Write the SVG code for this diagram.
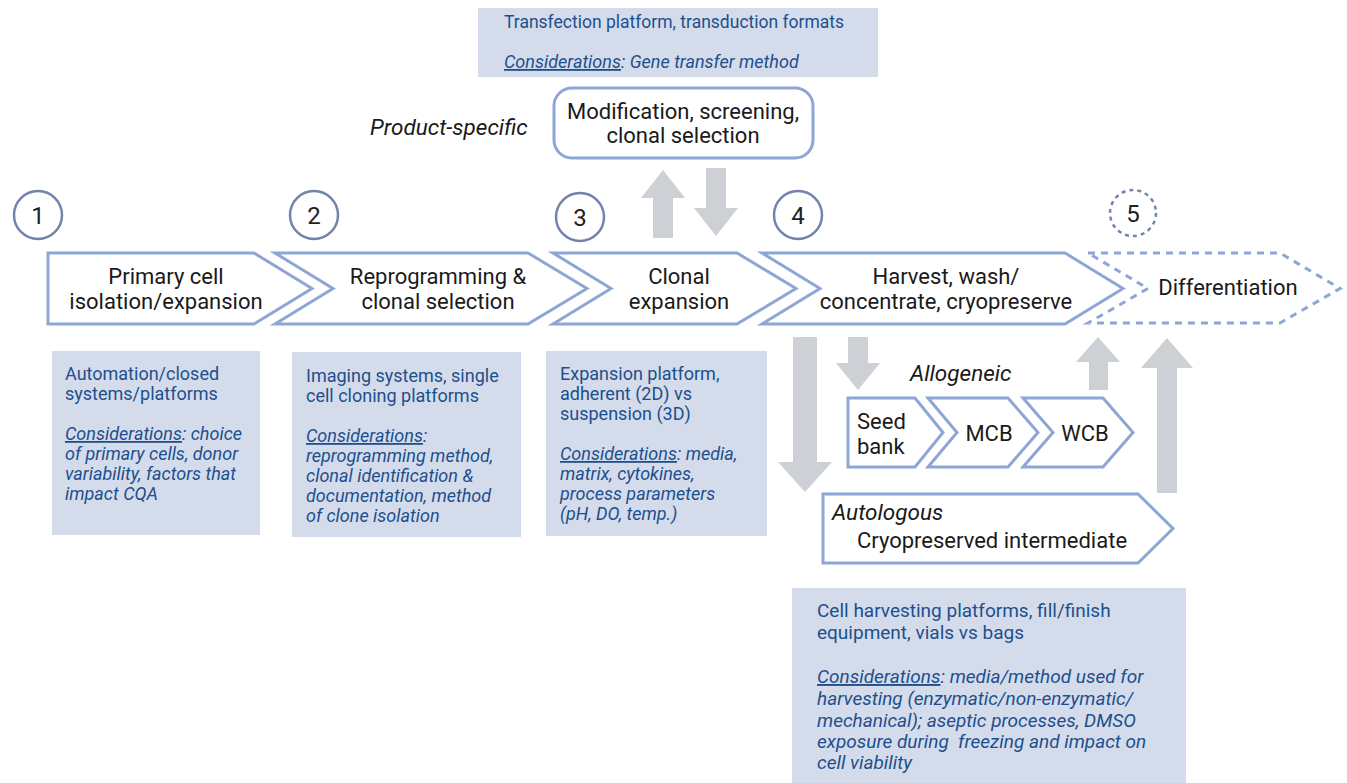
<svg xmlns="http://www.w3.org/2000/svg" width="1347" height="783" viewBox="0 0 1347 783">
<style>
.chev{fill:#fff;stroke:#8ea6d6;stroke-width:3;stroke-linejoin:miter}
.dash{fill:#fff;stroke:#8ea6d6;stroke-width:3;stroke-dasharray:7 6}
.circ{fill:#fff;stroke:#7283ad;stroke-width:2.5}
.num{font-family:Roboto,"Liberation Sans",sans-serif;font-size:24px;fill:#222;text-anchor:middle}
.lbl{font-family:Roboto,"Liberation Sans",sans-serif;font-size:22px;fill:#1a1a1a;text-anchor:middle}
.st{text-anchor:start}
.it{font-family:Roboto,"Liberation Sans",sans-serif;font-size:22.5px;fill:#1a1a1a;font-style:italic}
.box{fill:#d4dcec}
.bt{font-family:Roboto,"Liberation Sans",sans-serif;font-size:17.5px;fill:#1d4f8c}
.bs{font-size:18px}
.bl{font-size:19px}
.bi{font-style:italic}
.u{text-decoration:underline}
.arr{fill:#cdd0d4}
</style>

<g id="connectors">
  <polygon class="arr" points="653,238 673,238 673,198 685,198 663,170 641,198 653,198"/>
  <polygon class="arr" points="706,168 726,168 726,208 738,208 716,236 694,208 706,208"/>
  <polygon class="arr" points="793,337 817,337 817,462 832,462 805,492 778,462 793,462"/>
  <polygon class="arr" points="848,337 868,337 868,363 880,363 858,390 836,363 848,363"/>
  <polygon class="arr" points="1089,390 1108,390 1108,362 1120,362 1098,337 1076,362 1089,362"/>
  <polygon class="arr" points="1157,493 1177,493 1177,368 1193,368 1167,338 1141,368 1157,368"/>
</g>

<g id="top-box">
  <rect class="box" x="478" y="8" width="400" height="69"/>
  <text class="bt" x="504" y="28">Transfection platform, transduction formats</text>
  <text class="bt bs bi" x="504" y="68"><tspan class="u">Considerations</tspan>: Gene transfer method</text>
</g>

<g id="product-specific">
  <text class="it" x="370" y="135">Product-specific</text>
</g>

<g id="modification">
  <rect x="554" y="88" width="259" height="70" rx="18" fill="#fff" stroke="#8ea6d6" stroke-width="3"/>
  <text class="lbl" x="683" y="119">Modification, screening,</text>
  <text class="lbl" x="683" y="143">clonal selection</text>
</g>

<g id="step1">
  <circle class="circ" cx="38" cy="215" r="24"/>
  <text class="num" x="38" y="224">1</text>
  <polygon class="chev" points="48,253 254,253 312,288.5 254,324 48,324"/>
  <text class="lbl" x="166" y="284">Primary cell</text>
  <text class="lbl" x="166" y="309">isolation/expansion</text>
</g>

<g id="step2">
  <circle class="circ" cx="314" cy="215" r="24"/>
  <text class="num" x="314" y="224">2</text>
  <polygon class="chev" points="275,253 528,253 587,288.5 528,324 275,324 333,288.5"/>
  <text class="lbl" x="438" y="284">Reprogramming &amp;</text>
  <text class="lbl" x="438" y="309">clonal selection</text>
</g>

<g id="step3">
  <circle class="circ" cx="580" cy="217" r="24"/>
  <text class="num" x="580" y="226">3</text>
  <polygon class="chev" points="553,253 737,253 796,288.5 737,324 553,324 611,288.5"/>
  <text class="lbl" x="679" y="284">Clonal</text>
  <text class="lbl" x="679" y="309">expansion</text>
</g>

<g id="step4">
  <circle class="circ" cx="798" cy="215" r="24"/>
  <text class="num" x="798" y="224">4</text>
  <polygon class="chev" points="762,253 1065,253 1123,288.5 1065,324 762,324 820,288.5"/>
  <text class="lbl" x="946" y="284">Harvest, wash/</text>
  <text class="lbl" x="946" y="309">concentrate, cryopreserve</text>
</g>

<g id="step5">
  <circle class="circ" cx="1133" cy="213" r="23" stroke-dasharray="4 4"/>
  <text class="num" x="1133" y="222">5</text>
  <polygon class="dash" points="1088,253 1280,253 1340,288.5 1280,323 1088,323 1148,288.5"/>
  <text class="lbl" x="1228" y="295">Differentiation</text>
</g>

<g id="allogeneic">
  <text class="it" x="910" y="381">Allogeneic</text>
</g>

<g id="seed-bank">
  <polygon class="chev" points="848,398 915,398 943,432.5 915,467 848,467"/>
  <text class="lbl st" x="857" y="429">Seed</text>
  <text class="lbl st" x="857" y="454">bank</text>
</g>

<g id="mcb">
  <polygon class="chev" points="928,398 1008,398 1038,432.5 1008,467 928,467 957,432.5"/>
  <text class="lbl" x="989" y="441">MCB</text>
</g>

<g id="wcb">
  <polygon class="chev" points="1023,398 1103,398 1133,432.5 1103,467 1023,467 1053,432.5"/>
  <text class="lbl" x="1085" y="441">WCB</text>
</g>

<g id="autologous">
  <polygon class="chev" points="823,494 1138,494 1173,528.5 1138,563 823,563"/>
  <text class="it" x="832" y="520">Autologous</text>
  <text class="lbl" x="992" y="548">Cryopreserved intermediate</text>
</g>

<g id="box1">
  <rect class="box" x="52" y="351" width="208" height="184"/>
  <text class="bt bs" x="65" y="380">Automation/closed</text>
  <text class="bt bs" x="65" y="400">systems/platforms</text>
  <text class="bt bs bi" x="65" y="440"><tspan class="u">Considerations</tspan>: choice</text>
  <text class="bt bs bi" x="65" y="460">of primary cells, donor</text>
  <text class="bt bs bi" x="65" y="480">variability, factors that</text>
  <text class="bt bs bi" x="65" y="500">impact CQA</text>
</g>

<g id="box2">
  <rect class="box" x="292" y="352" width="229" height="185"/>
  <text class="bt bs" x="306" y="382">Imaging systems, single</text>
  <text class="bt bs" x="306" y="402">cell cloning platforms</text>
  <text class="bt bs bi" x="306" y="442"><tspan class="u">Considerations</tspan>:</text>
  <text class="bt bs bi" x="306" y="462">reprogramming method,</text>
  <text class="bt bs bi" x="306" y="482">clonal identification &amp;</text>
  <text class="bt bs bi" x="306" y="502">documentation, method</text>
  <text class="bt bs bi" x="306" y="522">of clone isolation</text>
</g>

<g id="box3">
  <rect class="box" x="546" y="351" width="221" height="185"/>
  <text class="bt bs" x="560" y="380">Expansion platform,</text>
  <text class="bt bs" x="560" y="400">adherent (2D) vs</text>
  <text class="bt bs" x="560" y="420">suspension (3D)</text>
  <text class="bt bs bi" x="560" y="460"><tspan class="u">Considerations</tspan>: media,</text>
  <text class="bt bs bi" x="560" y="480">matrix, cytokines,</text>
  <text class="bt bs bi" x="560" y="500">process parameters</text>
  <text class="bt bs bi" x="560" y="520">(pH, DO, temp.)</text>
</g>

<g id="box4">
  <rect class="box" x="792" y="588" width="394" height="195"/>
  <text class="bt bl" x="817" y="617">Cell harvesting platforms, fill/finish</text>
  <text class="bt bl" x="817" y="639">equipment, vials vs bags</text>
  <text class="bt bl bi" x="817" y="683"><tspan class="u">Considerations</tspan>: media/method used for</text>
  <text class="bt bl bi" x="817" y="705">harvesting (enzymatic/non-enzymatic/</text>
  <text class="bt bl bi" x="817" y="727">mechanical); aseptic processes, DMSO</text>
  <text class="bt bl bi" x="817" y="748" xml:space="preserve">exposure during  freezing and impact on</text>
  <text class="bt bl bi" x="817" y="769">cell viability</text>
</g>
</svg>
